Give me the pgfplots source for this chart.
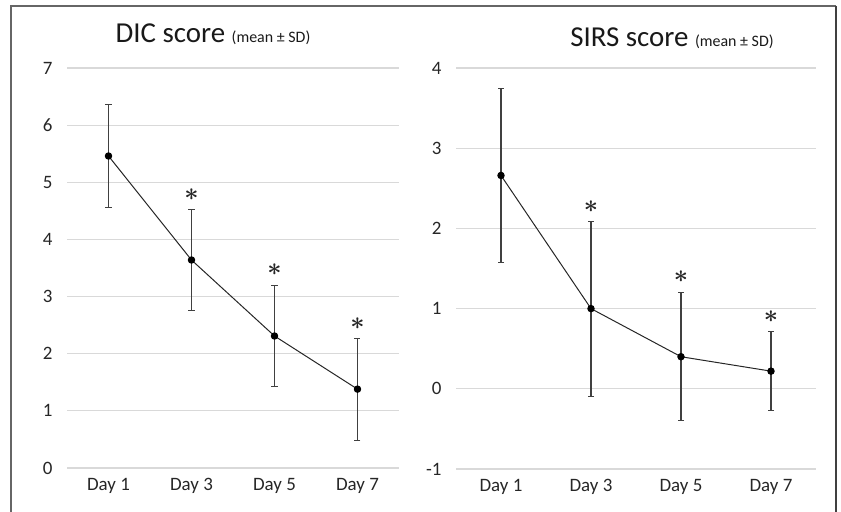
\documentclass[border=0pt]{standalone}
\usepackage{fontspec}
\setmainfont{Carlito}
\usepackage{pgfplots}
\pgfplotsset{compat=1.18}
\definecolor{gridc}{HTML}{D9D9D9}
\definecolor{linec}{HTML}{262626}
\definecolor{barc}{HTML}{404040}
\newcommand{\sig}{\mbox{\boldmath$\ast$}}
\pgfplotsset{
  myax/.style={
    scale only axis,
    xmin=0.5, xmax=4.5,
    xtick={1,2,3,4},
    xticklabels={Day 1,Day 3,Day 5,Day 7},
    axis line style={draw=none},
    major tick length=0pt,
    ymajorgrids,
    major grid style={gridc, line width=1.2bp},
    tick label style={font=\fontsize{19}{20}\selectfont, text=black!85},
    yticklabel style={anchor=east, xshift=-11bp},
    xticklabel style={yshift=-7bp},
    /pgf/number format/assume math mode=true,
    clip=false,
  },
  myline/.style={
    color=linec, line width=1bp, mark=*, mark size=3.2bp,
    mark options={fill=black, draw=black},
    error bars/.cd, y dir=both, y explicit,
    error bar style={barc, line width=1.1bp},
    error mark options={rotate=90, mark size=3bp, barc, line width=1bp},
  },
  mystar/.style={
    draw=none, mark=none,
    nodes near coords=\sig,
    every node near coord/.append style={anchor=center, font=\fontsize{36}{36}\selectfont, text=black!85, yshift=15bp, inner sep=0pt},
  },
}
\begin{document}
\begin{tikzpicture}
\useasboundingbox (0,0) rectangle (841bp,512bp);
\draw[black!60, line width=1.2bp] (11bp,-5bp) -- (11bp,506bp) -- (836bp,506bp);
\draw[black!75, line width=1.8bp] (836bp,506bp) -- (836bp,-5bp);

\begin{axis}[myax, at={(67bp,44bp)}, anchor=south west,
  width=332bp, height=400bp, ymin=0, ymax=7, ytick={0,1,...,7}]
\addplot+[myline] coordinates {
 (1,5.46) +- (0,0.90)
 (2,3.64) +- (0,0.88)
 (3,2.31) +- (0,0.89)
 (4,1.38) +- (0,0.89)
};
\addplot[mystar] coordinates {(2,4.52) (3,3.20) (4,2.27)};
\end{axis}

\begin{axis}[myax, at={(456bp,43bp)}, anchor=south west,
  width=360bp, height=401bp, ymin=-1, ymax=4, ytick={-1,0,...,4}]
\addplot+[myline] coordinates {
 (1,2.66) +- (0,1.09)
 (2,1.00) +- (0,1.09)
 (3,0.40) +- (0,0.80)
 (4,0.22) +- (0,0.49)
};
\addplot[mystar] coordinates {(2,2.09) (3,1.21) (4,0.71)};
\end{axis}

\node[anchor=base, text=black!90, inner sep=0pt] at (213bp,469bp)
  {\fontsize{29}{32}\selectfont DIC score \fontsize{16}{19}\selectfont(mean ± SD)};
\node[anchor=base, text=black!90, inner sep=0pt] at (672bp,465bp)
  {\fontsize{29}{32}\selectfont SIRS score \fontsize{16}{19}\selectfont(mean ± SD)};
\end{tikzpicture}
\end{document}
